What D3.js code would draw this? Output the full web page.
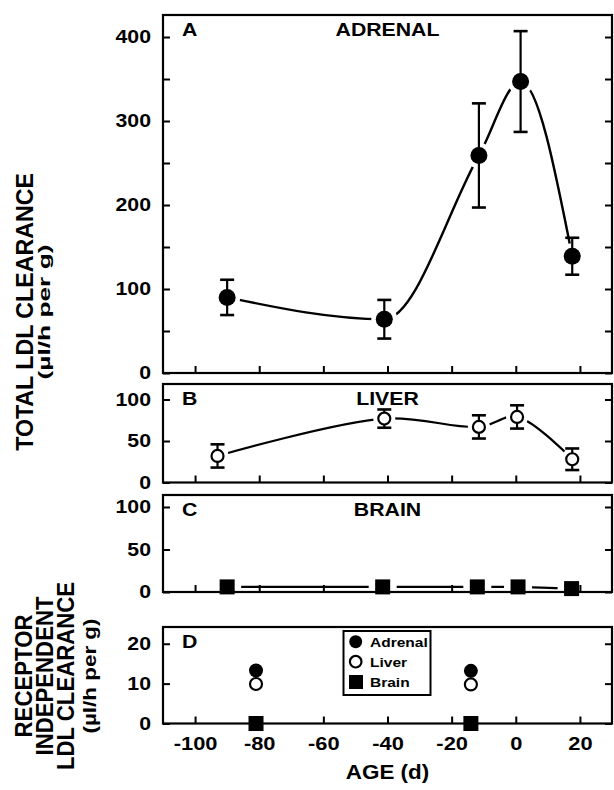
<!DOCTYPE html>
<html><head><meta charset="utf-8">
<script src="https://cdn.jsdelivr.net/npm/d3@7"></script>
<style>
body{margin:0;background:#fff}
svg text{font-family:"Liberation Sans",Arial,Helvetica,sans-serif;font-weight:bold;fill:#000}
</style>
</head><body><svg id="c" width="614" height="790"></svg>
<script>
// ---------- data ----------
const xTicks = [-100,-80,-60,-40,-20,0,20];
const adrenalAge = [-90,-41,-11.5,1.5,17.6];
const adrenalVal = [90,64,259,347,139];
const adrenalErr = [21,23,62,60,22];
const liverAge = [-93,-41,-11.5,0.4,17.6];
const liverVal = [32,77,67,79,28];
const liverErr = [14,11,14,14,13];
const brainAge = [-90,-41.5,-12,0.7,17.4];
const brainVal = [6,6,6,6,4];
const brainErr = [3,3,3,3,3];
const riAge = [-81,-14];
const riAdrenal = [13.3,13.2];
const riLiver = [9.9,9.8];
const riBrain = [0,0];
const yTicksA = [0,100,200,300,400];
const yMinorA = [50,150,250,350];
const yTicksB = [0,50,100];
const yTicksC = [0,50,100];
const yTicksD = [0,10,20];
const legendNames = ["Adrenal","Liver","Brain"];

// ---------- layout ----------
const SX = 1.15; // horizontal glyph stretch of the original print
const svg = d3.select("#c");
const X0 = 163, X1 = 612;
const x = d3.scaleLinear().domain([-110,30]).range([X0,X1]);

function txt(g, px, py, s, size, anchor, rot, sx, len){
  const t = g.append("text")
    .attr("transform", `translate(${px},${py}) scale(${sx || SX},1)` + (rot ? ` rotate(${rot})` : ""))
    .attr("text-anchor", anchor)
    .style("font-size", size + "px")
    .text(s);
  if (len) t.attr("textLength", len).attr("lengthAdjust", "spacingAndGlyphs");
  return t;
}

const panels = [
  {key:"A", title:"ADRENAL", top:15,  bottom:373,   ymax:426.2, labels:yTicksA, minor:yMinorA},
  {key:"B", title:"LIVER",   top:384, bottom:482.5, ymax:118.7, labels:yTicksB, minor:[]},
  {key:"C", title:"BRAIN",   top:495, bottom:592,   ymax:114.1, labels:yTicksC, minor:[]},
  {key:"D", title:null,      top:627, bottom:723.5, ymax:24.2,  labels:yTicksD, minor:[]}
];
panels.forEach(p => {
  p.y = d3.scaleLinear().domain([0,p.ymax]).range([p.bottom,p.top]);
  p.g = svg.append("g");
  p.layers = {};
  ["line","halo","frame","err","mark"].forEach(k => p.layers[k] = p.g.append("g"));
});

function drawAxes(p){
  const f = p.layers.frame;
  f.append("rect").attr("x",X0).attr("y",p.top).attr("width",X1-X0).attr("height",p.bottom-p.top)
    .attr("fill","none").attr("stroke","#000").attr("stroke-width",2.2);
  const all = p.labels.concat(p.minor).sort((a,b)=>a-b);
  const left = f.append("g").attr("transform",`translate(${X0},0)`)
    .call(d3.axisLeft(p.y).tickValues(all).tickSize(-7).tickPadding(12)
      .tickFormat(d => p.labels.includes(d) ? String(d) : ""));
  const right = f.append("g").attr("transform",`translate(${X1},0)`)
    .call(d3.axisRight(p.y).tickValues(all).tickSize(-7).tickFormat(""));
  const bottom = f.append("g").attr("transform",`translate(0,${p.bottom})`)
    .call(d3.axisBottom(x).tickValues(xTicks).tickSize(-7).tickPadding(13)
      .tickFormat(d => p.key === "D" ? String(d) : ""));
  [left,right,bottom].forEach(a => {
    a.select(".domain").remove();
    a.selectAll("line").attr("stroke-width",2);
    a.attr("font-family",null).attr("font-size",null);
  });
  left.selectAll("text").each(function(){
    const t = d3.select(this); const tx = +t.attr("x");
    t.attr("x",null).attr("transform",`translate(${tx},0) scale(${SX},1)`).style("font-size","18.5px");
  });
  bottom.selectAll("text").each(function(){
    const t = d3.select(this); const ty = +t.attr("y");
    t.attr("y",null).attr("transform",`translate(0,${ty}) scale(${SX},1)`).style("font-size","19px");
  });
  txt(f, 182, p.top+21, p.key, 18.5, "start");
  if (p.title) txt(f, x(-40), p.top+21, p.title, 18.5, "middle");
}
panels.forEach(drawAxes);

function errBars(layer, ages, vals, errs, y, cap){
  ages.forEach((a,i) => {
    const cx = x(a), y1 = y(vals[i]+errs[i]), y2 = y(vals[i]-errs[i]);
    layer.append("line").attr("x1",cx).attr("x2",cx).attr("y1",y1).attr("y2",y2)
      .attr("stroke","#000").attr("stroke-width",2.2);
    [y1,y2].forEach(yy => layer.append("line").attr("x1",cx-cap).attr("x2",cx+cap)
      .attr("y1",yy).attr("y2",yy).attr("stroke","#000").attr("stroke-width",2.6));
  });
}

// ---- Panel A: adrenal ----
(function(){
  const p = panels[0], y = p.y;
  const pts = adrenalAge.map((a,i)=>[x(a), y(adrenalVal[i])]);
  p.layers.line.append("path").attr("d", d3.line().curve(d3.curveMonotoneX)(pts))
    .attr("fill","none").attr("stroke","#000").attr("stroke-width",2.4);
  pts.forEach(q => p.layers.halo.append("circle").attr("cx",q[0]).attr("cy",q[1]).attr("r",13).attr("fill","#fff"));
  errBars(p.layers.err, adrenalAge, adrenalVal, adrenalErr, y, 7);
  pts.forEach(q => p.layers.mark.append("circle").attr("cx",q[0]).attr("cy",q[1]).attr("r",8.5).attr("fill","#000"));
})();

// ---- Panel B: liver ----
(function(){
  const p = panels[1], y = p.y;
  const pts = liverAge.map((a,i)=>[x(a), y(liverVal[i])]);
  p.layers.line.append("path").attr("d", d3.line().curve(d3.curveCatmullRom.alpha(0.5))(pts))
    .attr("fill","none").attr("stroke","#000").attr("stroke-width",2.2);
  pts.forEach(q => p.layers.halo.append("circle").attr("cx",q[0]).attr("cy",q[1]).attr("r",11).attr("fill","#fff"));
  errBars(p.layers.err, liverAge, liverVal, liverErr, y, 7);
  pts.forEach(q => p.layers.mark.append("circle").attr("cx",q[0]).attr("cy",q[1]).attr("r",6)
    .attr("fill","#fff").attr("stroke","#000").attr("stroke-width",2.2));
})();

// ---- Panel C: brain ----
(function(){
  const p = panels[2], y = p.y;
  const pts = brainAge.map((a,i)=>[x(a), y(brainVal[i])]);
  p.layers.line.append("path").attr("d", d3.line()(pts))
    .attr("fill","none").attr("stroke","#000").attr("stroke-width",2.2);
  pts.forEach(q => p.layers.halo.append("rect").attr("x",q[0]-14).attr("y",q[1]-6).attr("width",28).attr("height",12).attr("fill","#fff"));
  errBars(p.layers.err, brainAge, brainVal, brainErr, y, 7);
  pts.forEach(q => p.layers.mark.append("rect").attr("x",q[0]-7.5).attr("y",q[1]-7.5).attr("width",15).attr("height",15).attr("fill","#000"));
})();

// ---- Panel D: receptor-independent ----
(function(){
  const p = panels[3], y = p.y, m = p.layers.mark;
  riAge.forEach((a,i) => {
    m.append("circle").attr("cx",x(a)).attr("cy",y(riAdrenal[i])).attr("r",7).attr("fill","#000");
    m.append("circle").attr("cx",x(a)).attr("cy",y(riLiver[i])).attr("r",6).attr("fill","#fff").attr("stroke","#000").attr("stroke-width",2.2);
    m.append("rect").attr("x",x(a)-7.5).attr("y",y(riBrain[i])-7.5).attr("width",15).attr("height",15).attr("fill","#000");
  });
  // legend
  const lg = p.g.append("g");
  lg.append("rect").attr("x",343.5).attr("y",631).attr("width",87).attr("height",64)
    .attr("fill","#fff").attr("stroke","#000").attr("stroke-width",2);
  const ly = [641.7, 661.7, 682];
  lg.append("circle").attr("cx",355.7).attr("cy",ly[0]).attr("r",6.5).attr("fill","#000");
  lg.append("circle").attr("cx",355.7).attr("cy",ly[1]).attr("r",5.8).attr("fill","#fff").attr("stroke","#000").attr("stroke-width",2.2);
  lg.append("rect").attr("x",349).attr("y",ly[2]-7).attr("width",14).attr("height",14).attr("fill","#000");
  legendNames.forEach((n,i) => txt(lg, 370, ly[i]+5, n, 13.5, "start"));
})();

// ---------- axis titles ----------
const tg = svg.append("g");
txt(tg, 33, 312, "TOTAL LDL CLEARANCE", 23.2, "middle", -90, 1.05);
txt(tg, 50, 312, "(\u00b5l/h per g)", 16, "middle", -90, 1, 135);
txt(tg, 32, 676, "RECEPTOR", 22.2, "middle", -90, 1.05);
txt(tg, 52.5, 676, "INDEPENDENT", 22.2, "middle", -90, 1.05);
txt(tg, 74, 676, "LDL CLEARANCE", 22.2, "middle", -90, 1.05);
txt(tg, 96, 676, "(\u00b5l/h per g)", 18, "middle", -90, 1, 115);
txt(tg, x(-40), 779, "AGE (d)", 19.5, "middle");
</script></body></html>
